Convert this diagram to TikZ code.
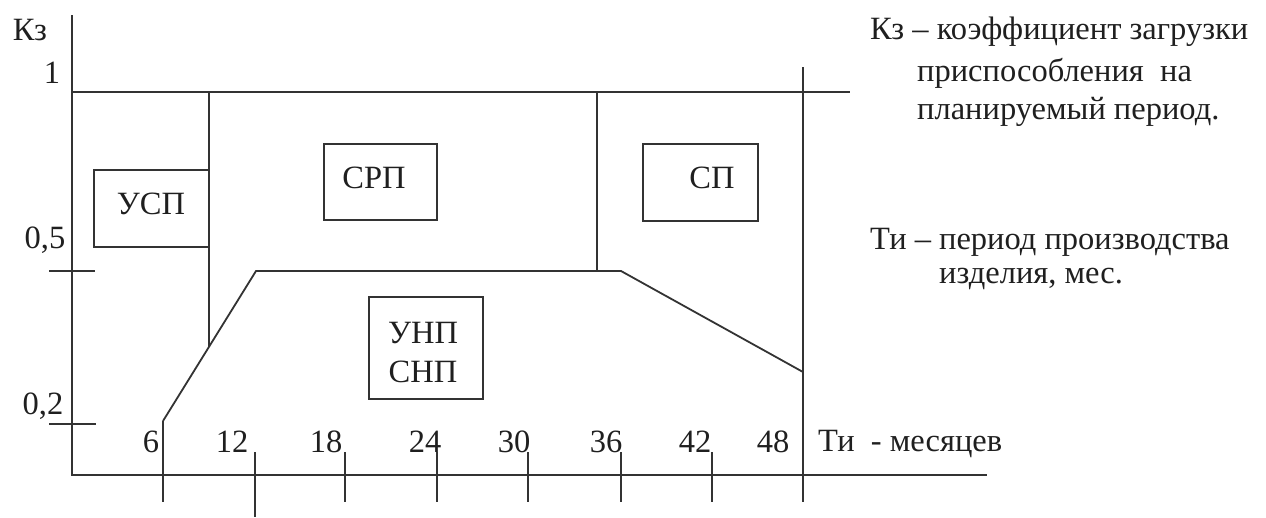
\documentclass[tikz,border=0pt]{standalone}
\usepackage{fontspec}
\setmainfont{Liberation Serif}
\begin{document}
\begin{tikzpicture}[x=1pt,y=-1pt,
  ln/.style={line width=1.8pt,draw=black!80},
  txt/.style={font=\fontsize{32.5}{38}\selectfont,text=black!88,inner sep=0pt}]
\useasboundingbox (0,0) rectangle (1266,517);
% axes
\coordinate (ytop) at (72,15);
\coordinate (O) at (72,475);
\coordinate (xend) at (987,475);
\draw[ln] (ytop) -- (O) -- (xend);
% top line K=1
\coordinate (t0) at (72,92);
\coordinate (t1) at (850,92);
\draw[ln] (t0) -- (t1);
% y ticks
\coordinate (y5a) at (49,271); \coordinate (y5b) at (95,271);
\coordinate (y2a) at (49,424); \coordinate (y2b) at (96,424);
\draw[ln] (y5a) -- (y5b);
\draw[ln] (y2a) -- (y2b);
% region boundaries
\coordinate (v1t) at (209,92); \coordinate (v1b) at (209,347);
\draw[ln] (v1t) -- (v1b);
\coordinate (v2t) at (597,92); \coordinate (v2b) at (597,271);
\draw[ln] (v2t) -- (v2b);
\coordinate (v3t) at (803,67); \coordinate (v3b) at (803,502);
\draw[ln] (v3t) -- (v3b);
\coordinate (p1) at (163,421);
\coordinate (p2) at (256,271);
\coordinate (p3) at (621,271);
\coordinate (p4) at (803,372);
\draw[ln] (p1) -- (p2) -- (p3) -- (p4);
% x ticks
\foreach \n/\x/\ya/\yb in {6/163/421/502,12/255/452/517,18/345/452/502,24/437/452/502,30/528/452/502,36/621/452/502,42/712/452/502}{
  \coordinate (xt\n a) at (\x,\ya);
  \coordinate (xt\n b) at (\x,\yb);
  \draw[ln] (xt\n a) -- (xt\n b);
}
% boxes
\draw[ln] (209,170) -- (94,170) -- (94,247) -- (209,247);
\node[txt] (usp) at (151,204) {УСП};
\node[ln,minimum width=113pt,minimum height=76pt,inner sep=0pt] (srpbox) at (380.5,182) {};
\node[txt] (srp) at (374,178) {СРП};
\node[ln,minimum width=115pt,minimum height=77pt,inner sep=0pt] (spbox) at (700.5,182.5) {};
\node[txt] (sp) at (712,178) {СП};
\node[ln,minimum width=114pt,minimum height=102pt,inner sep=0pt] (unpbox) at (426,348) {};
\node[txt] (unp) at (423,333) {УНП};
\node[txt] (snp) at (423,372) {СНП};
% axis labels
\node[txt] (kz) at (30,30) {Кз};
\node[txt] (one) at (52,73) {1};
\node[txt] (k05) at (45,240) {0,5};
\node[txt] (k02) at (43,406) {0,2};
\foreach \t/\x in {6/151,12/232,18/326,24/425,30/514,36/606,42/695,48/773}{
  \node[txt] (xl\t) at (\x,442) {\t};
}
\node[txt,anchor=west] (ti) at (818,444) {Ти\ \ - месяцев};
% legend
\node[txt,anchor=west] (leg1) at (870,32) {Кз – коэффициент загрузки};
\node[txt,anchor=west] (leg2) at (917,73) {приспособления\ \ на};
\node[txt,anchor=west] (leg3) at (917,112) {планируемый период.};
\node[txt,anchor=west] (leg4) at (870,242) {Ти – период производства};
\node[txt,anchor=west] (leg5) at (939,279) {изделия, мес.};
\end{tikzpicture}
\end{document}
